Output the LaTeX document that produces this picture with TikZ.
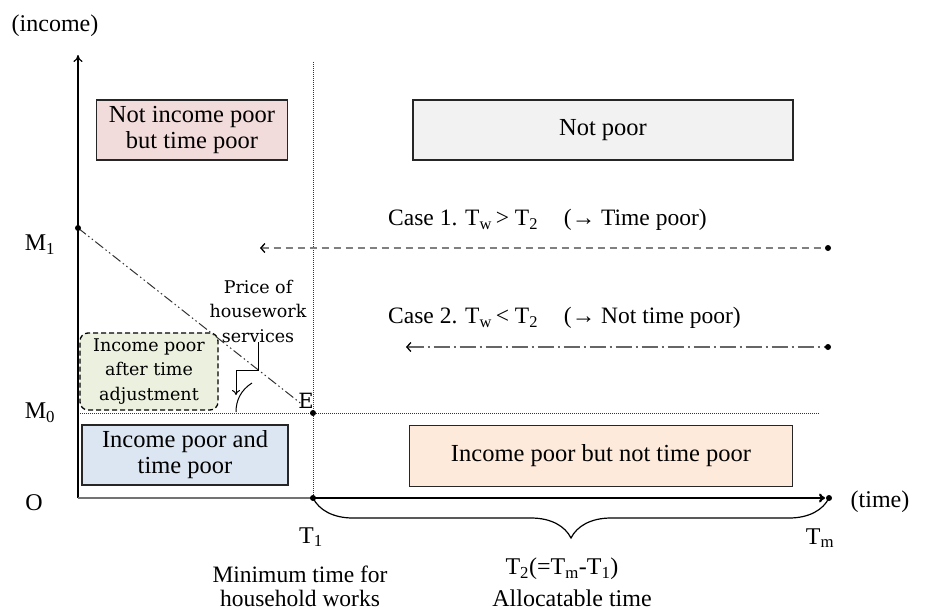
\documentclass[tikz,border=0pt]{standalone}
\usepackage{fontspec}
\setmainfont{Liberation Serif}
\newfontfamily\slabfont{DejaVu Serif}
\usetikzlibrary{arrows.meta,decorations.pathreplacing,positioning}
\definecolor{pinkfill}{RGB}{242,220,219}
\definecolor{greyfill}{RGB}{242,242,242}
\definecolor{bluefill}{RGB}{220,230,242}
\definecolor{peachfill}{RGB}{253,234,218}
\definecolor{greenfill}{RGB}{235,241,222}
\tikzset{
	lbl/.style={font=\fontsize{24}{24}\selectfont,inner sep=0pt},
	region/.style={font=\fontsize{24.5}{26}\selectfont,inner sep=0pt,draw=black!85,line width=1.3pt,align=center},
	note/.style={font=\slabfont\fontsize{17.5}{24.5}\selectfont,align=center,inner sep=0pt},
	guide/.style={black!80,line width=0.9pt,dash pattern=on 1pt off 1pt},
	budget/.style={black!80,line width=1pt,dash pattern=on 10pt off 3pt on 1.5pt off 3pt on 1.5pt off 3pt},
	caseone/.style={black!50,line width=1.3pt,dash pattern=on 7pt off 5pt,
		{Straight Barb[length=4pt,width=9pt,black]}-},
	casetwo/.style={black!60,line width=1.3pt,dash pattern=on 16pt off 4pt on 2pt off 4pt,
		{Straight Barb[length=4pt,width=9pt,black]}-}
}
\begin{document}
\begin{tikzpicture}[x=1pt,y=-1pt]
\useasboundingbox (0,0) rectangle (928,614);
\coordinate (O) at (78,498);
\coordinate (Ytop) at (78,55);
\coordinate (M1) at (78,228);
\coordinate (M0) at (78,413);
\coordinate (T1) at (313,498);
\coordinate (Xarr) at (825,498);
\coordinate (Tm) at (829,498);
\coordinate (E) at (313,413);
\coordinate (Vtop) at (313,62);
\coordinate (Hend) at (820,413);
\coordinate (c1l) at (260,248);
\coordinate (c1r) at (828,248);
\coordinate (c2l) at (406,347);
\coordinate (c2r) at (828,347);
\coordinate (kink) at (236,370);
\coordinate (tipend) at (236,395);

\node[region,fill=pinkfill,minimum width=191pt,minimum height=60pt] (tpoor) at (192,130) {Not income poor\\but time poor};
\node[region,fill=greyfill,minimum width=380pt,minimum height=60pt] (notpoor) at (603,130) {Not poor};
\node[region,fill=bluefill,minimum width=206pt,minimum height=60pt] (bothpoor) at (185,455) {Income poor and\\time poor};
\node[region,fill=peachfill,minimum width=383pt,minimum height=61pt] (ipoor) at (601,456) {Income poor but not time poor};
\node[note,draw,line width=1.3pt,dash pattern=on 5pt off 3pt,rounded corners=8pt,fill=greenfill,
	minimum width=138pt,minimum height=77pt] (adjust) at (149,371.5) {Income poor\\after time\\adjustment};

\draw[guide] (Vtop) -- (T1);
\draw[guide] (M0) -- (Hend);
\draw[line width=1.2pt,-{To[length=7pt,width=9pt]}] (O) -- (Ytop);
\draw[line width=2.5pt,black!55] (O) -- (T1);
\draw[line width=2.2pt,-{To[length=6pt,width=9pt]}] (T1) -- (Xarr);
\draw[budget,shorten >=15pt] (M1) -- (E);
\draw[caseone] (c1l) -- (c1r);
\draw[casetwo] (c2l) -- (c2r);
\foreach \p in {M1,E,T1,Tm,c1r,c2r}
	\fill (\p) circle (3pt);
\draw[line width=1.2pt,decorate,decoration={brace,mirror,amplitude=40pt}] (T1) -- (Tm);

\node[lbl] (inc) at (55,26) {(income)};
\node[lbl] (tim) at (880,502) {(time)};
\node[lbl] (olbl) at (34,503) {O};
\node[lbl] (m1lbl) at (40,245) {M\textsubscript{1}};
\node[lbl] (m0lbl) at (40,413) {M\textsubscript{0}};
\node[lbl] (t1lbl) at (311,537) {T\textsubscript{1}};
\node[lbl] (tmlbl) at (820,538) {T\textsubscript{m}};
\node[lbl,align=center,font=\fontsize{23.5}{24}\selectfont] (mintime) at (300,586) {Minimum time for\\household works};
\node[lbl] (t2lbl) at (562,569) {T\textsubscript{2}(=T\textsubscript{m}-T\textsubscript{1})};
\node[lbl] (alloc) at (572,598) {Allocatable time};
\node[lbl,anchor=west,font=\fontsize{23.5}{25}\selectfont] (case1) at (388,220) {Case 1. T\textsubscript{w}\,> T\textsubscript{2}\hspace{1.1em}(→ Time poor)};
\node[lbl,anchor=west,font=\fontsize{23.5}{25}\selectfont] (case2) at (388,318) {Case 2. T\textsubscript{w}\,< T\textsubscript{2}\hspace{1.1em}(→ Not time poor)};

\node[note] (price) at (258,311) {Price of\\housework\\services};
\node[note,font=\slabfont\fontsize{21}{21}\selectfont] (elbl) at (306,401) {E};
\draw[line width=1pt,-{To[length=5pt,width=8pt]}] (price.south) |- (kink) -- (tipend);
\draw[line width=1pt] (252,383) .. controls (241,390) and (236,400) .. (236,412);
\end{tikzpicture}
\end{document}
